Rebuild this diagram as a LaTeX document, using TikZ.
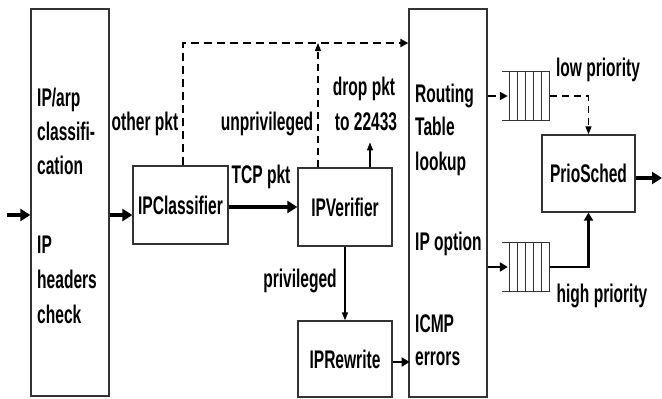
\documentclass[tikz,border=0pt]{standalone}
\usepackage{fontspec}
\setmainfont[FakeStretch=0.61]{Liberation Sans}
\usetikzlibrary{arrows.meta,calc}
\newcommand\lblfont{\bfseries\fontsize{25.5}{34}\selectfont}
\definecolor{BoxClr}{rgb}{0.2,0.2,0.2}

\begin{document}
\begin{tikzpicture}[x=1pt,y=-1pt,
  lbl/.style={font=\lblfont,inner sep=0pt,anchor=base},
  lbw/.style={font=\lblfont,inner sep=0pt,anchor=base west},
  blk/.style={draw=BoxClr,line width=1.3pt,inner sep=0pt,font=\lblfont},
  fat/.style={line width=4pt,-{Triangle[length=10pt,width=12pt]}},
  medarr/.style={line width=2.2pt,-{Triangle[length=8pt,width=9pt]}},
  thinarr/.style={line width=1.3pt,-{Triangle[length=8pt,width=6pt]}},
  dsh/.style={line width=2.4pt,dash pattern=on 8pt off 5pt,-{Triangle[length=8pt,width=8pt]}},
  dshthin/.style={line width=1.3pt,dash pattern=on 7pt off 5pt,-{Triangle[length=8pt,width=6pt]}},
  qline/.style={draw=BoxClr,line width=1.1pt}]
\useasboundingbox (0,0) rectangle (662,399);

\node[blk,minimum width=78pt,minimum height=387pt] (hdr) at (70,202.5) {};
\node[blk,minimum width=95pt,minimum height=78pt] (cls) at (180.5,205) {IPClassifier};
\node[blk,minimum width=94pt,minimum height=78pt] (ver) at (345,207) {IPVerifier};
\node[blk,minimum width=94pt,minimum height=76pt] (rw) at (345,359) {IPRewrite};
\node[blk,minimum width=78pt,minimum height=388pt] (rt) at (448,203) {};
\node[blk,minimum width=93pt,minimum height=77pt] (ps) at (588.5,173.5) {PrioSched};

\node[lbw] (hdrA) at (37,106) {IP/arp};
\node[lbw] (hdrB) at (37,140) {classifi-};
\node[lbw] (hdrC) at (37,174) {cation};
\node[lbw] (hdrD) at (37,253) {IP};
\node[lbw] (hdrE) at (37,288) {headers};
\node[lbw] (hdrF) at (37,323) {check};

\node[lbw] (rtA) at (415,102) {Routing};
\node[lbw] (rtB) at (415,135) {Table};
\node[lbw] (rtC) at (415,170) {lookup};
\node[lbw] (rtD) at (415,250) {IP option};
\node[lbw] (rtE) at (415,332) {ICMP};
\node[lbw] (rtF) at (415,365) {errors};

% queues
\node[minimum width=48pt,minimum height=48pt,inner sep=0pt] (lowq) at (526,96) {};
\node[minimum width=48pt,minimum height=48pt,inner sep=0pt] (highq) at (526,267) {};
\foreach \q in {lowq,highq}{
  \draw[qline] (\q.north west) -- (\q.north east);
  \draw[qline] (\q.south west) -- (\q.south east);
  \foreach \k in {1,...,6}
    \draw[qline] ($(\q.north west)+(8*\k,0)$) -- ($(\q.south west)+(8*\k,0)$);
}

\coordinate (in) at (7,215);
\coordinate (bus) at (0,43);
\coordinate (out) at (662,178);

\draw[fat] (in) -- (in -| hdr.west);
\draw[fat] (in -| hdr.east) -- (in -| cls.west);
\draw[fat] (cls.east |- ver.west) -- (ver.west);
\node[lbl] (tcp) at (261,183) {TCP pkt};

\draw[dsh] ([xshift=2.5pt]cls.north) |- (bus -| rt.west);
\node[lbl] (oth) at (145,130) {other pkt};
\draw[dshthin] ([xshift=-27pt]ver.north) -- ([xshift=-27pt]ver.north |- bus);
\node[lbl] (unp) at (267,130) {unprivileged};
\draw[thinarr] ([xshift=25pt]ver.north) -- ++(0,-25);
\node[lbl] (drop) at (364,95) {drop pkt};
\node[lbl] (dropto) at (366,130) {to 22433};

\draw[thinarr] (ver.south) -- (rw.north);
\node[lbl] (priv) at (300,287) {privileged};
\draw[medarr] ([yshift=-3pt]rw.east) -- ++(17,0);

\draw[dsh] (lowq.west -| rt.east) -- ([xshift=6pt]lowq.west);
\draw[dshthin] (lowq.east) -| (ps.north);
\node[lbl] (low) at (598,76) {low priority};
\draw[medarr] (highq.west -| rt.east) -- ([xshift=6pt]highq.west);
\draw[medarr] (highq.east) -| (ps.south);
\node[lbl] (high) at (602,302) {high priority};

\draw[fat] (ps.east |- out) -- (out);
\end{tikzpicture}
\end{document}
